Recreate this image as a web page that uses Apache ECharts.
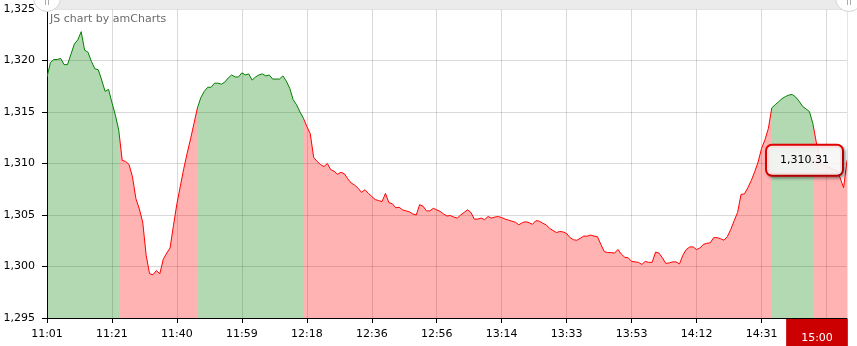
<!DOCTYPE html>
<html><head><meta charset="utf-8">
<script src="https://cdn.jsdelivr.net/npm/echarts@6/dist/echarts.min.js"></script>
<style>html,body{margin:0;padding:0;background:#fff}#c{width:857px;height:346px}</style>
</head><body><div id="c"></div>
<script>
// ---- data ----
const values = [
 1318.4,1319.8,1320.1,1320.1,1320.2,1319.6,1319.6,1320.6,1321.6,1322.0,
 1322.8,1321.0,1320.8,1319.9,1319.2,1319.1,1318.1,1317.0,1317.2,1315.9,
 1314.7,1313.2,1310.3,1310.2,1309.9,1308.7,1306.6,1305.6,1304.3,1301.1,
 1299.3,1299.2,1299.6,1299.3,1300.7,1301.3,1301.8,1304.0,1306.1,1307.8,
 1309.5,1311.0,1312.4,1313.9,1315.4,1316.4,1317.0,1317.4,1317.4,1317.8,
 1317.8,1317.7,1317.9,1318.3,1318.6,1318.4,1318.4,1318.8,1318.6,1318.7,
 1318.1,1318.4,1318.6,1318.7,1318.5,1318.6,1318.2,1318.2,1318.2,1318.5,
 1318.0,1317.3,1316.2,1315.7,1315.0,1314.4,1313.6,1312.9,1310.6,1310.2,
 1309.9,1309.7,1310.0,1309.4,1309.25,1308.95,1309.15,1309.0,1308.5,1308.1,
 1307.9,1307.6,1307.2,1307.45,1307.1,1306.8,1306.5,1306.4,1306.3,1307.1,
 1306.2,1306.1,1305.7,1305.75,1305.5,1305.4,1305.3,1305.1,1305.0,1306.0,
 1305.85,1305.4,1305.4,1305.65,1305.5,1305.35,1305.1,1304.9,1304.95,1304.8,
 1304.7,1305.0,1305.25,1305.5,1305.25,1304.6,1304.6,1304.7,1304.55,1304.85,
 1304.7,1304.8,1304.85,1304.75,1304.6,1304.5,1304.4,1304.3,1304.05,1304.25,
 1304.35,1304.25,1304.1,1304.45,1304.4,1304.2,1304.05,1303.7,1303.5,1303.3,
 1303.4,1303.35,1303.2,1302.8,1302.6,1302.55,1302.75,1302.95,1302.95,1303.05,
 1302.95,1302.9,1302.15,1301.45,1301.35,1301.35,1301.3,1301.65,1301.2,1300.9,
 1300.85,1300.5,1300.45,1300.4,1300.2,1300.5,1300.4,1300.4,1301.4,1301.3,
 1300.85,1300.3,1300.35,1300.45,1300.45,1300.25,1301.1,1301.65,1301.9,1301.9,
 1301.65,1301.8,1302.15,1302.25,1302.3,1302.8,1302.8,1302.7,1302.55,1302.9,
 1303.6,1304.45,1305.25,1307.0,1307.05,1307.65,1308.35,1309.2,1310.15,1311.45,
 1312.3,1313.4,1315.4,1315.7,1316.0,1316.3,1316.5,1316.65,1316.7,1316.45,
 1316.05,1315.55,1315.3,1315.05,1313.9,1312.1,1310.5,1309.85,1309.75,1309.6,
 1309.4,1309.35,1308.6,1307.65,1310.31
];
const tickLabels = ["11:01","11:21","11:40","11:59","12:18","12:36","12:56","13:14","13:33","13:53","14:12","14:31"];
const lastTime = "15:00";
const labelEvery = 19;
// index ranges (start, end) where the line is drawn green
const upRanges = [[0,21],[44,75],[212,224]];
const yMin = 1295, yMax = 1325, yStep = 5;

// ---- build ----
const FONT = 'DejaVu Sans';
const GREEN = '#008000', RED = '#ff0000';
const lastIdx = values.length - 1;
const categories = values.map((v,i) => {
  if (i === lastIdx) return lastTime;
  if (i % labelEvery === 0 && tickLabels[i/labelEvery]) return tickLabels[i/labelEvery];
  return 'p' + i;
});
const pieces = [];
let prev = 0;
upRanges.forEach(([a,b]) => {
  if (a > prev) pieces.push({gte: prev, lt: a, color: RED});
  pieces.push({gte: a, lt: b, color: GREEN});
  prev = b;
});
pieces.push({gte: prev, lte: lastIdx, color: RED});

const fmtInt = v => Number(v).toLocaleString('en-US');
const fmt2 = v => Number(v).toLocaleString('en-US', {minimumFractionDigits: 2, maximumFractionDigits: 2});

const chart = echarts.init(document.getElementById('c'), null, {renderer: 'canvas'});
chart.setOption({
  animation: false,
  backgroundColor: '#fff',
  title: {
    text: 'JS chart by amCharts', left: 50, top: 14, padding: 0,
    textStyle: {fontFamily: FONT, fontSize: 11, fontWeight: 'normal', color: '#6b6b6b'}
  },
  grid: {left: 47, right: 10, top: 9, bottom: 28},
  visualMap: {show: false, type: 'piecewise', dimension: 0, seriesIndex: 0, pieces: pieces},
  xAxis: {
    type: 'category', data: categories, boundaryGap: false, z: 3,
    axisLine: {lineStyle: {color: '#000', width: 1}},
    axisTick: {interval: labelEvery - 1, length: 5, lineStyle: {color: '#000'}},
    axisLabel: {
      interval: labelEvery - 1, margin: 11, fontFamily: FONT, fontSize: 11, color: '#000',
      formatter: v => tickLabels.indexOf(v) >= 0 ? v : ''
    },
    splitLine: {show: true, interval: labelEvery - 1, lineStyle: {color: 'rgba(0,0,0,0.15)'}}
  },
  yAxis: {
    type: 'value', min: yMin, max: yMax, interval: yStep, z: 3,
    axisLine: {show: true, lineStyle: {color: '#000', width: 1}},
    axisTick: {show: true, length: 5, lineStyle: {color: '#000'}},
    axisLabel: {margin: 12, fontFamily: FONT, fontSize: 11, color: '#000', formatter: fmtInt},
    splitLine: {show: true, lineStyle: {color: 'rgba(0,0,0,0.15)'}}
  },
  series: [{
    type: 'line', data: values, symbol: 'none', smooth: false,
    lineStyle: {width: 1},
    areaStyle: {opacity: 0.3},
    markLine: {
      silent: true, symbol: ['none','none'], animation: false,
      lineStyle: {color: 'rgba(255,0,0,0.15)', type: 'solid', width: 1},
      label: {show: false},
      data: [{xAxis: lastTime}]
    },
    markPoint: {
      silent: true, animation: false,
      symbol: 'circle', symbolSize: 0, itemStyle: {color: 'rgba(0,0,0,0)'},
      data: [
        {
          coord: [lastTime, values[lastIdx]], value: values[lastIdx],
          label: {
            show: true, position: 'left', distance: 5,
            formatter: p => fmt2(p.value),
            fontFamily: FONT, fontSize: 11, color: '#000', lineHeight: 13,
            backgroundColor: 'rgba(255,255,255,0.88)', borderColor: '#e00000', borderWidth: 2,
            borderRadius: 5, padding: [8, 13, 8, 13],
            shadowBlur: 3, shadowOffsetX: 2, shadowOffsetY: 2, shadowColor: 'rgba(0,0,0,0.3)'
          }
        },
        {
          coord: [lastTime, yMin], value: lastTime,
          label: {
            show: true, position: 'bottom', distance: 1, offset: [-30, 0],
            formatter: lastTime,
            fontFamily: FONT, fontSize: 11, color: '#fff', lineHeight: 14,
            backgroundColor: '#cc0000', padding: [12, 15, 6, 15]
          }
        }
      ]
    }
  }],
  graphic: [
    {type: 'rect', silent: true, shape: {x: 47, y: 0, width: 802, height: 9.5}, style: {fill: '#ebebeb'}, z: 10},
    {type: 'circle', silent: true, shape: {cx: 47, cy: -2, r: 13.5}, style: {fill: '#fff', stroke: '#d4d4d4', lineWidth: 1}, z: 11},
    {type: 'line', silent: true, shape: {x1: 45.5, y1: 0, x2: 45.5, y2: 5}, style: {stroke: '#aaa', lineWidth: 1}, z: 12},
    {type: 'line', silent: true, shape: {x1: 48.5, y1: 0, x2: 48.5, y2: 5}, style: {stroke: '#aaa', lineWidth: 1}, z: 12},
    {type: 'circle', silent: true, shape: {cx: 849, cy: -2, r: 13.5}, style: {fill: '#fff', stroke: '#d4d4d4', lineWidth: 1}, z: 11},
    {type: 'line', silent: true, shape: {x1: 847.5, y1: 0, x2: 847.5, y2: 5}, style: {stroke: '#aaa', lineWidth: 1}, z: 12},
    {type: 'line', silent: true, shape: {x1: 850.5, y1: 0, x2: 850.5, y2: 5}, style: {stroke: '#aaa', lineWidth: 1}, z: 12}
  ]
});
</script>
</body></html>
